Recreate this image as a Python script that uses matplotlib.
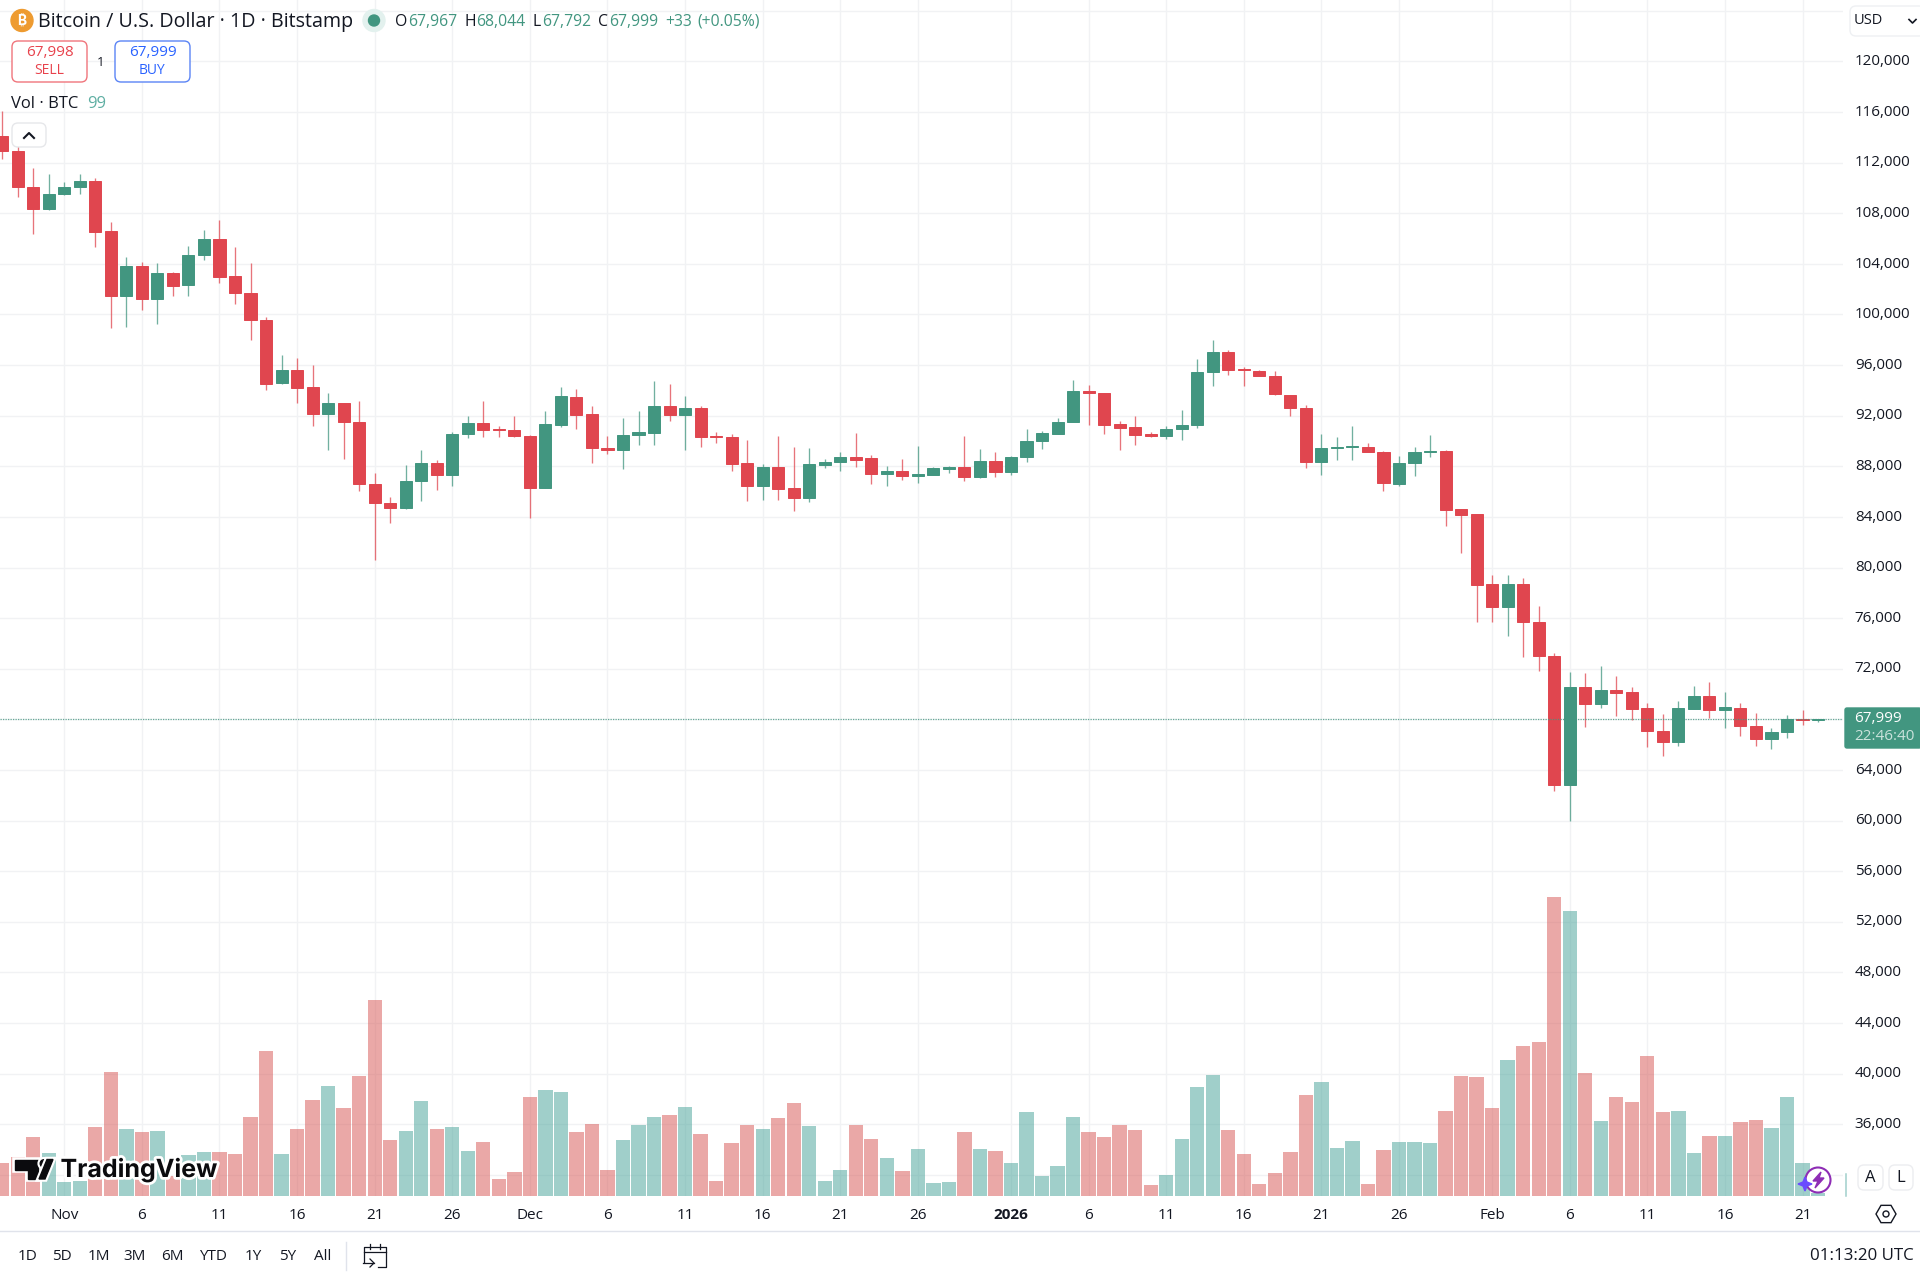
import numpy as np
import pandas as pd
import matplotlib
matplotlib.use("Agg")
import matplotlib.pyplot as plt
import matplotlib.patheffects as pe
from matplotlib.patches import FancyBboxPatch, Circle, Polygon, RegularPolygon
from matplotlib.lines import Line2D
from matplotlib.transforms import ScaledTranslation

plt.rcParams["font.family"] = ["Open Sans", "DejaVu Sans"]

# Daily BTC/USD sessions, 28 Oct 2025 to 22 Feb 2026
dates = pd.date_range("2025-10-28", "2026-02-22", freq="D")

opens = [
    114080, 112890, 110050, 108320,
    109530, 110050, 110530, 106580, 101470, 103870, 101260, 103260, 102300, 104710,
    105970, 103050, 101660, 99600, 94550, 95580, 94260, 92100, 93000, 91530,
    86580, 85130, 84680, 86820, 88290, 87340, 90530, 91420, 90970, 90870,
    90390, 86290, 91290, 93500, 92130, 89450, 89260, 90450, 90660, 92740,
    92030, 92610, 90400, 90320, 88240, 86420, 87920, 86260, 85500, 88130,
    88320, 88710, 88660, 87420, 87630, 87210, 87340, 87820, 87920, 87160, 88420,
    87530, 88740, 90000, 90580, 91500, 93950, 93790, 91340, 91080, 90550,
    90370, 90920, 91240, 95420, 97030, 95680, 95550, 95160, 93630, 92610,
    88340, 89420, 89500, 89550, 89160, 86610, 88260, 89130, 89210, 84610, 84210,
    78710, 76890, 78710, 75680, 73030, 62840, 70580, 69240, 70320, 70130, 68870,
    67080, 66180, 68820, 69870, 68760, 68920, 67470, 66450, 67000, 68050, 67967,
]
highs = [
    116080, 113630, 111580, 111080,
    110450, 111130, 110760, 107290, 104530, 104180, 104050, 103320, 105450, 106660,
    107500, 105320, 104050, 99820, 96760, 96580, 95970, 93790, 93000, 93130,
    87450, 85580, 88110, 89290, 88500, 90710, 92000, 93130, 91180, 92000,
    90470, 92390, 94260, 94130, 92740, 90370, 91840, 92340, 94710, 94500,
    93580, 92790, 90710, 90550, 90110, 88180, 90370, 89530, 89450, 88580,
    89130, 90660, 88890, 88050, 88580, 89580, 87950, 88050, 90370, 89370, 89160,
    88840, 90970, 90790, 91820, 94840, 94450, 93790, 91610, 92000, 90740,
    91180, 92470, 96470, 98000, 97210, 95840, 95630, 95500, 93630, 92840,
    90580, 90320, 91160, 89840, 89240, 88820, 89500, 90470, 89260, 84660, 84210,
    79370, 79370, 79180, 76920, 73240, 71740, 71660, 72240, 71450, 70550, 69290,
    68450, 69470, 70610, 70970, 70130, 69260, 68500, 67340, 68340, 68760, 68044,
]
lows = [
    112290, 109290, 106340, 108280,
    109480, 109500, 105340, 98950, 99030, 100320, 99260, 101500, 101450, 104290,
    102500, 100840, 98000, 94000, 94530, 93030, 91210, 89260, 88610, 86030,
    80630, 83530, 84660, 85290, 86160, 86420, 90210, 90290, 90290, 90350,
    83890, 86270, 91080, 90970, 88240, 89000, 87820, 89710, 89660, 91610,
    89320, 89500, 89840, 87660, 85240, 85370, 85370, 84500, 85160, 87870,
    87660, 87920, 86610, 86420, 86950, 86660, 87290, 87450, 86820, 87090, 87130,
    87340, 88320, 89390, 90560, 91480, 91290, 90580, 89260, 89660, 90340,
    90180, 90110, 91050, 94320, 95180, 94320, 95100, 93660, 91950, 87870,
    87290, 88530, 88530, 89100, 86080, 86470, 87240, 88760, 83290, 81110, 75660,
    75710, 74580, 72950, 71790, 62320, 60000, 67370, 68900, 68290, 67970, 65790,
    65130, 65920, 68780, 68110, 67290, 66660, 65920, 65660, 66500, 67580, 67792,
]
closes = [
    112920, 110050, 108320, 109530,
    110050, 110530, 106530, 101470, 103840, 101260, 103260, 102260, 104710, 105970,
    102970, 101660, 99600, 94530, 95580, 94210, 92100, 93000, 91530, 86580,
    85110, 84680, 86840, 88290, 87340, 90550, 91390, 90890, 90840, 90370,
    86290, 91340, 93530, 92080, 89420, 89260, 90470, 90680, 92740, 92030,
    92610, 90320, 90290, 88210, 86420, 87920, 86240, 85500, 88180, 88370,
    88710, 88530, 87420, 87630, 87210, 87390, 87840, 87920, 87160, 88420, 87530,
    88760, 90000, 90630, 91530, 93920, 93760, 91290, 91050, 90500, 90370,
    90950, 91260, 95450, 97030, 95610, 95610, 95130, 93680, 92580, 88340,
    89420, 89500, 89610, 89130, 86660, 88290, 89130, 89210, 84550, 84160, 78630,
    76890, 78710, 75660, 73000, 62840, 70580, 69240, 70320, 70110, 68840, 67050,
    66180, 68870, 69870, 68760, 68950, 67450, 66450, 67000, 68000, 67970, 67999,
]
volumes = [
    1090, 1290, 1950, 1420,
    460, 500, 2280, 4090, 2210, 2110, 2150, 660, 1350, 1450,
    1450, 1390, 2610, 4790, 1390, 2210, 3170, 3630, 2900, 3960,
    6470, 1850, 2150, 3140, 2210, 2280, 1490, 1780, 560, 790,
    3270, 3500, 3430, 2110, 2380, 860, 1850, 2340, 2610, 2670,
    2940, 2050, 500, 1750, 2340, 2210, 2570, 3070, 2310, 500,
    860, 2340, 1880, 1250, 830, 1550, 430, 460, 2110, 1550, 1490,
    1090, 2770, 660, 990, 2610, 2110, 1950, 2340, 2180, 360,
    690, 1880, 3600, 3990, 2180, 1390, 400, 760, 1450, 3330,
    3760, 1580, 1820, 400, 1520, 1780, 1780, 1750, 2810, 3960, 3930,
    2900, 4490, 4950, 5080, 9870, 9410, 4060, 2480, 3270, 3100, 4620,
    2770, 2810, 1420, 1980, 1980, 2440, 2510, 2240, 3270, 1090, 99,
]
# Sessions whose volume bar is coloured as rising although the candle closed lower
volume_rising_override = ["2026-02-21"]

# Axis labels
tick_days = ["2025-11-01", "2025-11-06", "2025-11-11", "2025-11-16", "2025-11-21", "2025-11-26",
             "2025-12-01", "2025-12-06", "2025-12-11", "2025-12-16", "2025-12-21", "2025-12-26",
             "2026-01-01", "2026-01-06", "2026-01-11", "2026-01-16", "2026-01-21", "2026-01-26",
             "2026-02-01", "2026-02-06", "2026-02-11", "2026-02-16", "2026-02-21"]
tick_names = ["Nov", "6", "11", "16", "21", "26", "Dec", "6", "11", "16", "21", "26",
              "2026", "6", "11", "16", "21", "26", "Feb", "6", "11", "16", "21"]
price_lines = list(range(32000, 124001, 4000))
unlabelled_prices = [32000, 124000]
last_price = 67999

INK = "#131722"
RED = "#E0464F"
GREEN = "#429680"
VOL_RED = "#D75351"
VOL_GREEN = "#43A197"
GRID = "#F1F2F4"

W, H = 1920, 1279
fig = plt.figure(figsize=(W / 100, H / 100), dpi=100, facecolor="white")

# Chart pane: 15.52 px per session, 79.05 USD per px
pane_right, pane_bottom = 1843, 1196
rect = [0, 1 - pane_bottom / H, pane_right / W, pane_bottom / H]
x_lo, x_hi = -2.2 / 15.52, (pane_right - 2.2) / 15.52
y_hi = 92000 + 415.7 * 79.05
y_lo = 92000 - (pane_bottom - 415.7) * 79.05

ax = fig.add_axes(rect)
ax_vol = fig.add_axes(rect, sharex=ax)
ax_vol.patch.set_alpha(0)

x = np.arange(len(dates))
o, h, l, c = map(np.array, (opens, highs, lows, closes))
v = np.array(volumes)
rising = c >= o

# Volume histogram along the bottom of the pane, over the grid
vol_rising = rising.copy()
vol_rising[dates.get_indexer(pd.to_datetime(volume_rising_override))] = True
ax_vol.bar(x, v, width=0.925, color=np.where(vol_rising, VOL_GREEN, VOL_RED), alpha=0.5, linewidth=0)
ax_vol.set_ylim(0, pane_bottom * 33)
ax_vol.axis("off")

# Candles: wicks first, bodies on top
colors = np.where(rising, GREEN, RED)
ax.vlines(x, l, h, colors=colors, linewidth=0.95, alpha=0.75, zorder=3)
ax.bar(x, np.abs(c - o), bottom=np.minimum(o, c), width=0.78, color=colors,
       edgecolor=colors, linewidth=0.7, zorder=4)
ax.axhline(last_price, color=GREEN, linewidth=0.9, linestyle=(0, (1, 1)), alpha=0.8, zorder=5)

ax.set_xlim(x_lo, x_hi)
ax.set_ylim(y_lo, y_hi)
for s in ax.spines.values():
    s.set_visible(False)

ax.set_yticks(price_lines)
ax.set_yticklabels(["" if p in unlabelled_prices else f"{p:,}" for p in price_lines])
ax.yaxis.tick_right()
ax.tick_params(axis="y", length=0, pad=8.5, labelsize=10.9, labelcolor=INK)
lift = ScaledTranslation(0, 1.8 / 100, fig.dpi_scale_trans)
for lab in ax.get_yticklabels():
    lab.set_transform(lab.get_transform() + lift)

tick_pos = dates.get_indexer(pd.to_datetime(tick_days))
ax.set_xticks(tick_pos)
ax.set_xticklabels(tick_names)
ax.tick_params(axis="x", length=0, pad=8.5, labelsize=11, labelcolor=INK)
for lab in ax.get_xticklabels():
    if lab.get_text() == "2026":
        lab.set_fontweight("bold")
ax.grid(True, color=GRID, linewidth=1.0, zorder=0)
ax.set_axisbelow(True)

# Interface layer in pixel coordinates
ui = fig.add_axes([0, 0, 1, 1])
ui.set_xlim(0, W)
ui.set_ylim(H, 0)
ui.axis("off")
ui.patch.set_alpha(0)


def label(px, py, s, color=INK, size=11.5, ha="left", va="center", **kw):
    kw.setdefault("zorder", 8)
    return ui.text(px, py, s, color=color, fontsize=size, ha=ha, va=va, **kw)


def box(x0, y0, x1, y1, edge, face="white", radius=6, lw=1.0):
    ui.add_patch(FancyBboxPatch((x0, y0), x1 - x0, y1 - y0,
                                boxstyle=f"round,pad=0,rounding_size={radius}",
                                edgecolor=edge, facecolor=face, linewidth=lw, zorder=6))


# Symbol header
ui.add_patch(Circle((22, 20.5), 11, color="#EE9B30", zorder=6))
label(22, 20.5, "\u20bf", color="white", size=10, ha="center", fontweight="bold",
      family=["Inter", "Noto Sans", "Roboto", "Lato", "Liberation Sans", "DejaVu Sans"])
label(38, 22, "Bitcoin / U.S. Dollar · 1D · Bitstamp", size=14.2)
ui.add_patch(Circle((374, 20.5), 11, color="#E3F1EE", zorder=6))
ui.add_patch(Circle((374, 20.5), 5.5, color=GREEN, zorder=7))
ohlc_parts = [(395, "O", INK), (408, "67,967", GREEN), (464, "H", INK), (476, "68,044", GREEN),
              (532, "L", INK), (542, "67,792", GREEN), (598, "C", INK), (609, "67,999", GREEN),
              (665, "+33", GREEN), (697, "(+0.05%)", GREEN)]
for px, s, col in ohlc_parts:
    label(px, 22, s, color=col, size=11.3)

# Order buttons
box(12, 41, 87, 82, "#F0757C")
label(49.5, 53, "67,998", color="#E8424C", ha="center", size=11)
label(49.5, 70, "SELL", color="#E8424C", ha="center", size=10)
label(101, 62, "1", size=9.5, ha="center")
box(115, 41, 190, 82, "#5B84F5")
label(152.5, 53, "67,999", color="#2962FF", ha="center", size=11)
label(152.5, 70, "BUY", color="#2962FF", ha="center", size=10)

# Volume legend and collapse button
label(11, 104, "Vol · BTC", size=12)
label(87, 104, "99", color="#5FAFA3", size=12)
box(12, 123, 46, 147, "#E6E7EA")
ui.add_line(Line2D([24, 29, 34], [138, 133, 138], color=INK, linewidth=1.5, zorder=7))

# Last-price tag
box(1845, 708, 1921, 748, GREEN, face=GREEN, radius=2)
label(1854, 719, "67,999", color="white", size=11, fontweight="medium")
label(1854, 737, "22:46:40", color="#CBE3DC", size=11)

# Currency selector
box(1850, 6, 1925, 36, "#EEF0F3", radius=6)
label(1854, 21, "USD", size=10.5)
ui.add_line(Line2D([1909, 1912.5, 1916], [19.5, 23, 19.5], color=INK, linewidth=1.2, zorder=8))

# Scale buttons
box(1858, 1165, 1883, 1190, "#ECEDF0")
label(1870.5, 1178.5, "A", ha="center", size=12)
box(1889, 1165, 1913, 1190, "#ECEDF0")
label(1901, 1178.5, "L", ha="center", size=12)
ui.add_line(Line2D([1845.5, 1845.5], [1174, 1196], color="#A1D0CB", linewidth=1.1))

# Assistant badge
ui.add_patch(Circle((1818, 1180), 12.5, facecolor="white", edgecolor="#8E2DB5", linewidth=1.5, zorder=6))
ui.add_patch(Polygon([(1821, 1172), (1813, 1181), (1818, 1181), (1815, 1188), (1824, 1178), (1819, 1178)],
                     color="#8E2DB5", zorder=7))
ui.add_patch(Polygon([(1805, 1177), (1807, 1182), (1812, 1184), (1807, 1186), (1805, 1191),
                      (1803, 1186), (1798, 1184), (1803, 1182)], color="#6A4CFF", zorder=8))

# Scale settings icon
ui.add_patch(RegularPolygon((1886, 1214), 6, radius=10, orientation=np.pi / 6, facecolor="none",
                            edgecolor=INK, linewidth=1.0))
ui.add_patch(Circle((1886, 1214), 3, facecolor="none", edgecolor=INK, linewidth=1.0))

# Bottom toolbar
ui.add_line(Line2D([0, W], [1231, 1231], color="#E0E3EB", linewidth=1.0))
ranges = [(28, "1D"), (62, "5D"), (99, "1M"), (135, "3M"), (172, "6M"),
          (213, "YTD"), (253.5, "1Y"), (287.5, "5Y"), (323, "All")]
for px, s in ranges:
    label(px, 1256, s, ha="center", size=11)
ui.add_line(Line2D([346, 346], [1242, 1270], color="#E0E3EB", linewidth=1.0))
for xs, ys in (([364, 364, 386, 386, 378], [1262, 1247, 1247, 1267, 1267]),
               ([364, 386], [1252, 1252]),
               ([370, 370], [1244, 1249]),
               ([380, 380], [1244, 1249]),
               ([363, 374], [1263, 1263]),
               ([370, 374, 370], [1259, 1263, 1267])):
    ui.add_line(Line2D(xs, ys, color=INK, linewidth=0.9))
label(1914, 1256, "01:13:20 UTC", ha="right", size=12.2)

# Vendor mark
halo = [pe.withStroke(linewidth=4, foreground="white")]
logo_t = Polygon([(15, 1159.5), (38, 1159.5), (38, 1179), (27.5, 1179), (27.5, 1170), (15, 1170)],
                 color="#0B0B0E", zorder=9, path_effects=halo)
logo_dot = Circle((44, 1163.5), 3.8, color="#0B0B0E", zorder=9, path_effects=halo)
logo_slash = Polygon([(39, 1179), (47, 1159.5), (53, 1159.5), (45, 1179)], color="#0B0B0E",
                     zorder=9, path_effects=halo)
for patch in (logo_t, logo_dot, logo_slash):
    ui.add_patch(patch)
ui.text(60.5, 1169.5, "TradingView", color="#0B0B0E", fontsize=18, family="Inter", fontweight="bold",
        ha="left", va="center", zorder=9, path_effects=halo)

fig.savefig("out.png", dpi=100, facecolor="white")
